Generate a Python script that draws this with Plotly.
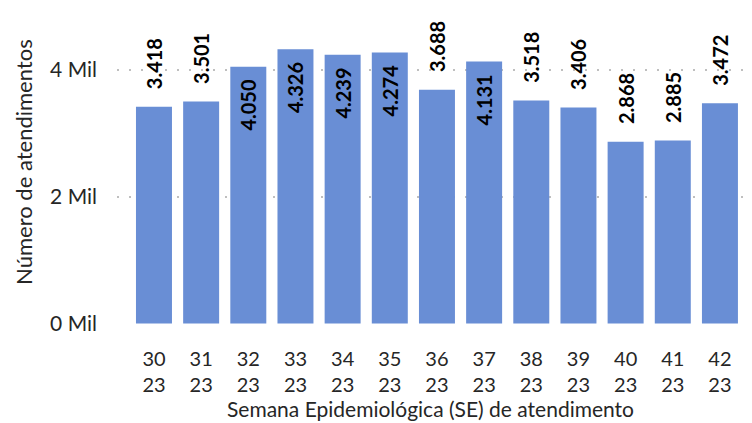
import plotly.graph_objects as go

semanas = ["30", "31", "32", "33", "34", "35", "36", "37", "38", "39", "40", "41", "42"]
anos = ["23"] * 13
atendimentos = [3418, 3501, 4050, 4326, 4239, 4274, 3688, 4131, 3518, 3406, 2868, 2885, 3472]
y_tick_vals = [0, 2000, 4000]
y_tick_text = ["0 Mil", "2 Mil", "4 Mil"]
y_title = "Número de atendimentos"
x_title = "Semana Epidemiológica (SE) de atendimento"

categorias = [f"{s}<br>{a}" for s, a in zip(semanas, anos)]
rotulos = [f"{v/1000:.3f}" for v in atendimentos]
posicoes = ["inside" if v >= 4000 else "outside" for v in atendimentos]
rotulos = [("\u00a0\u00a0\u00a0" + r) if p == "outside" else (r + "\u00a0\u00a0") for r, p in zip(rotulos, posicoes)]

FONT = "Lato"
TXT = "#262626"
lbl_font = dict(family=FONT, size=20, color="black", weight="bold")

fig = go.Figure(
    go.Bar(
        x=list(range(len(categorias))),
        y=atendimentos,
        marker_color="#698ED5",
        marker_line_width=0,
        text=rotulos,
        textposition=posicoes,
        textangle=-90,
        insidetextanchor="end",
        constraintext="none",
        textfont=lbl_font,
        outsidetextfont=lbl_font,
        insidetextfont=lbl_font,
        cliponaxis=False,
    )
)

# page body has an 8px margin: figure is offset by (8, 8)
fig.update_layout(
    width=744,
    height=415,
    margin=dict(l=109, r=8, t=0, b=99),
    plot_bgcolor="white",
    paper_bgcolor="white",
    bargap=0.237,
    showlegend=False,
    font=dict(family=FONT, size=20, color=TXT),
    annotations=[
        dict(
            text=y_title,
            xref="paper", yref="paper",
            x=0, y=0.513,
            xshift=-93,
            xanchor="center", yanchor="middle",
            textangle=-90,
            showarrow=False,
            font=dict(family=FONT, size=22, color=TXT),
        )
    ],
)

fig.update_xaxes(
    tickmode="array",
    tickvals=list(range(len(categorias))),
    ticktext=categorias,
    range=[-0.784, 12.51],
    showgrid=False,
    showline=False,
    ticks="",
    ticklabelstandoff=21,
    tickfont=dict(family=FONT, size=20, color=TXT),
    title=dict(text=x_title, font=dict(family=FONT, size=21, color=TXT), standoff=2),
)

fig.update_yaxes(
    range=[-8, 4976],
    tickmode="array",
    tickvals=y_tick_vals,
    ticktext=y_tick_text,
    showgrid=True,
    gridcolor="#BFBFBF",
    griddash="2px,10px",
    gridwidth=2,
    zeroline=False,
    showline=False,
    ticks="",
    ticklabelstandoff=19,
    tickfont=dict(family=FONT, size=21, color=TXT),
)

fig.write_html("out.html")
